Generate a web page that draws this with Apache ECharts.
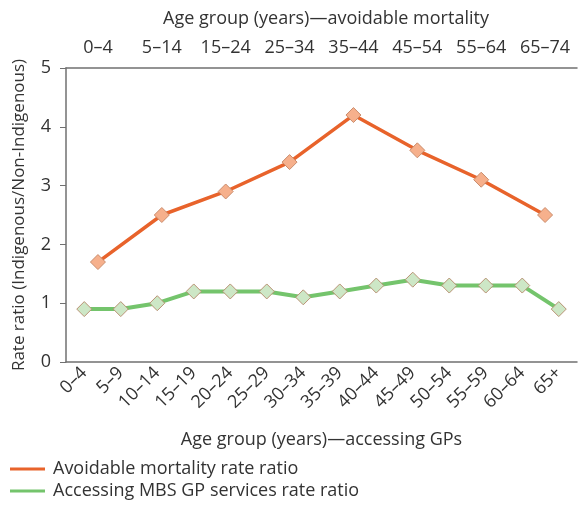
<!DOCTYPE html>
<html><head><meta charset="utf-8">
<script src="https://cdn.jsdelivr.net/npm/echarts@6/dist/echarts.min.js"></script>
<style>html,body{margin:0;padding:0;background:#fff}#c{width:579px;height:516px}</style>
</head><body><div id="c"></div>
<script>
const gpCategories = ['0–4','5–9','10–14','15–19','20–24','25–29','30–34','35–39','40–44','45–49','50–54','55–59','60–64','65+'];
const mortalityCategories = ['0–4','5–14','15–24','25–34','35–44','45–54','55–64','65–74'];
const mortalityValues = [1.7, 2.5, 2.9, 3.4, 4.2, 3.6, 3.1, 2.5];
const gpValues = [0.9, 0.9, 1.0, 1.2, 1.2, 1.2, 1.1, 1.2, 1.3, 1.4, 1.3, 1.3, 1.3, 0.9];
const yTicks = [0, 1, 2, 3, 4, 5];

const FONT = 'Open Sans';
const TXT = '#333';
const AX = '#707070';
const FS = 18;
const chart = echarts.init(document.getElementById('c'));
chart.setOption({
  animation: false,
  textStyle: {fontFamily: FONT, color: TXT},
  title: {text: 'Age group (years)—avoidable mortality', left: 321, textAlign: 'center', top: 5,
    textStyle: {fontFamily: FONT, fontSize: FS, fontWeight: 'normal', color: TXT}},
  grid: {left: 66, right: 2, top: 68, bottom: 154, containLabel: false},
  legend: {
    orient: 'vertical', left: 10, top: 460, itemGap: 4, itemWidth: 35, itemHeight: 3, icon: 'rect',
    padding: 0,
    textStyle: {fontFamily: FONT, fontSize: FS, color: TXT, padding: [0, 0, 0, 3]},
    data: [
      {name: 'Avoidable mortality rate ratio', itemStyle: {color: '#e8632b', borderWidth: 0}},
      {name: 'Accessing MBS GP services rate ratio', itemStyle: {color: '#74c46c', borderWidth: 0}}
    ]
  },
  xAxis: [
    {type: 'category', data: gpCategories, position: 'bottom', boundaryGap: true,
      name: 'Age group (years)—accessing GPs', nameLocation: 'middle', nameGap: 69,
      nameTextStyle: {fontFamily: FONT, fontSize: FS, color: TXT},
      axisLine: {lineStyle: {color: AX, width: 1.5}},
      axisTick: {inside: false, length: 7, lineStyle: {color: AX}},
      axisLabel: {rotate: 45, fontSize: FS, color: TXT, margin: 8, interval: 0}},
    {type: 'category', data: mortalityCategories, position: 'top', boundaryGap: true,
      axisLine: {lineStyle: {color: AX, width: 1.5}},
      axisTick: {inside: false, length: 5, lineStyle: {color: AX}},
      axisLabel: {fontSize: FS, color: TXT, margin: 11, interval: 0}}
  ],
  yAxis: {type: 'value', min: yTicks[0], max: yTicks[yTicks.length - 1], interval: 1,
    name: 'Rate ratio (Indigenous/Non-Indigenous)', nameLocation: 'middle', nameGap: 38,
    nameTextStyle: {fontFamily: FONT, fontSize: 17, color: TXT},
    axisLine: {show: true, lineStyle: {color: AX, width: 1.5}},
    axisTick: {show: true, length: 6, lineStyle: {color: AX}},
    splitLine: {show: false},
    axisLabel: {fontSize: FS, color: TXT, margin: 15}},
  series: [
    {name: 'Avoidable mortality rate ratio', type: 'line', xAxisIndex: 1, data: mortalityValues,
      symbol: 'diamond', symbolSize: 15,
      lineStyle: {color: '#e8632b', width: 3.5},
      itemStyle: {color: '#f6b08c', borderColor: '#c98c6c', borderWidth: 1}, z: 3},
    {name: 'Accessing MBS GP services rate ratio', type: 'line', xAxisIndex: 0, data: gpValues,
      symbol: 'diamond', symbolSize: 15,
      lineStyle: {color: '#74c46c', width: 4},
      itemStyle: {color: '#cde7c6', borderColor: '#b89274', borderWidth: 1}, z: 2}
  ]
});
</script></body></html>
